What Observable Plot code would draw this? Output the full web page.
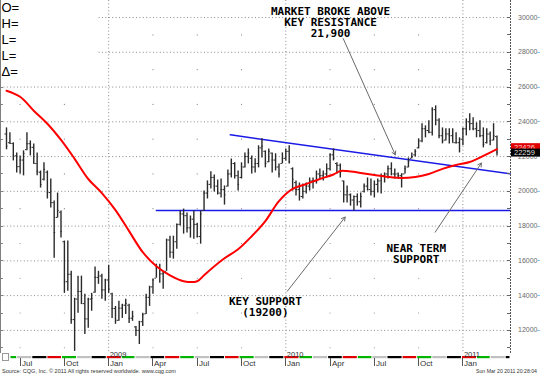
<!DOCTYPE html>
<html><head><meta charset="utf-8">
<script src="https://cdn.jsdelivr.net/npm/d3@7"></script>
<script src="https://cdn.jsdelivr.net/npm/@observablehq/plot@0.6"></script>
<style>body{margin:0;background:#fff} svg{display:block}</style>
</head><body><div id="chart"></div>
<script>
// ---- weekly OHLC (weeks starting Monday 2008-06-09) ----
const firstMonday = "2008-06-09";
const high = [23650,23370,22790,22210,22040,22330,23370,22900,22730,22210,21170,21640,21170,20710,19440,19900,18870,17140,17140,15400,13850,15120,15120,14080,13850,14130,15640,15400,15230,14940,15750,14130,13380,13670,13500,13790,13500,13100,12230,12520,12980,14080,14540,14940,15810,15810,15400,17250,17420,17420,18120,18870,
18980,18750,18580,18870,18170,18870,20020,20600,21120,20940,20650,20710,20310,21230,21860,21640,21170,21640,22210,22440,22040,21870,22620,23020,22330,22440,22210,22160,21580,22210,22440,22620,21350,20600,20480,20420,20480,20770,20770,21170,21290,21170,21580,22160,22440,21640,21580,20600,20310,19850,19730,19850,19900,20420,20770,20710,20600,20710,21000,21060,21460,21640,21290,21060,21000,21460,21920,22210,22390,23020,23890,23770,24060,24810,24920,24170,23650,23600,23600,23600,23370,23080,23650,24170,24460,24230,23940,24060,23650,23600,23420,23890,23190];
const low = [22390,22730,21750,21060,21000,20890,22330,22040,21580,20890,20190,20600,19560,19040,16150,18460,17310,14130,14250,12350,10790,12980,13500,11770,12120,13100,14130,14650,13790,13670,14130,12690,12350,12520,12690,12920,12400,12520,11650,11190,12230,12920,13380,14080,15000,14710,14370,15400,16150,16100,16670,18000,
17540,17600,17310,17250,17310,16960,18870,19560,20140,19960,19790,19620,19210,20250,20770,20710,20020,20710,21350,21580,21000,21060,21350,21920,21350,21640,21060,21170,20770,21580,21750,21580,20020,19730,19440,19560,19850,20020,20140,20420,20710,20600,20770,21170,21750,21000,20770,19330,19330,19150,18870,19150,19040,19900,20020,19730,19620,19900,19850,20480,20710,20890,20710,20710,20190,21000,21350,21870,21980,22440,22790,23080,23310,23190,23770,23020,22730,22900,22730,22790,22730,22210,22620,23190,23480,23480,23080,23080,22500,22730,22620,22900,22040];
const open = [23300,22800,22750,22040,21420,21800,22400,22740,22530,21600,21100,20700,21100,19930,19350,18500,18800,17100,14800,15230,12620,13800,14240,13540,12660,13800,14200,15050,15130,14330,14900,14100,13260,12580,13280,13450,13450,12700,12200,12000,12500,12950,13900,14500,15000,15600,15250,15400,17200,16500,17100,18100,
18700,18600,17900,18400,18100,17400,18900,19900,20400,20800,20300,19900,20100,20300,21000,21600,20900,20800,21400,22000,21900,21400,21600,22500,22300,21700,22200,21800,21400,21600,21900,22300,21300,20500,20100,19700,20000,20300,20600,20600,21000,20900,21000,21300,22100,21600,21500,20600,19800,19800,19500,19700,19400,20000,20300,20100,20000,20400,20600,20900,21000,21300,21000,21000,20900,21000,21400,21900,22100,22500,22900,23600,23500,23400,24700,24100,23200,22950,23300,23200,22800,22800,23000,23600,24000,23900,23600,23500,23200,22800,23300,22950,23150];
const close = [22600,22750,22040,21420,21800,22180,22740,22530,21600,21160,20390,21260,19930,19350,17630,18900,17680,14800,15230,12620,13800,14240,13540,12660,13800,13850,15050,15130,14330,14900,14380,13260,12580,13280,13450,13550,12700,12810,12000,12500,12900,13900,14500,14900,15600,15250,15300,17200,16500,17100,18100,18700,
18600,17900,18400,18100,17400,18700,19900,20400,20800,20300,19900,20100,19800,21000,21600,20900,20400,21400,22000,22200,21400,21600,22500,22600,21600,22300,21800,21400,21000,21900,22300,21700,20700,20100,19700,20000,20300,20600,20600,21000,20900,21000,21300,22100,21900,21500,21100,19800,20000,19500,19700,19400,19700,20300,20100,20000,20400,20600,20900,21000,21300,21000,21000,20900,21000,21300,21700,22000,22300,22900,23600,23500,23400,24700,24100,23200,22900,23300,23200,22800,22800,23000,23600,24000,23900,23600,23500,23200,22700,23300,22900,23200,22259];

// ---- red moving average, read at these week indexes ----
const maWeekIndex = [0,4,8,12,16,20,24,28,32,36,40,44,48,52,56,58,60,64,68,72,76,80,84,88,92,96,98,100,104,108,112,116,120,124,128,132,136,140,144];
const maValue = [25790,25440,24640,23890,22960,21870,20710,19900,18920,17710,16500,15690,15170,14830,14830,15170,15520,16150,16670,17420,18290,19440,20140,20420,20710,20970,21170,21170,21060,20940,20830,20770,20830,21000,21290,21520,21690,22040,22426];

// ---- trend lines ----
const supportDates = ["2009-04-13","2011-04-10"];
const supportValues = [18900,18900];
const resistanceDates = ["2009-09-12","2011-04-10"];
const resistanceValues = [23250,21015];

// ---- annotations ----
const noteTexts = ["MARKET BROKE ABOVE\nKEY RESISTANCE\n21,900","NEAR TERM\nSUPPORT","KEY SUPPORT\n(19200)"];
const noteDates = ["2010-04-06","2010-09-29","2009-11-23"];
const noteValues = [30600,16980,13920];
const arrowFromDates = ["2010-05-02","2010-11-07","2010-01-07"];
const arrowFromValues = [28790,17650,14250];
const arrowToDates = ["2010-08-17","2011-02-10","2010-05-06"];
const arrowToValues = [22100,21630,18520];

// ---- axes ----
const yLabelTicks = [12000,14000,16000,18000,20000,22000,24000,26000,28000,30000];
const yMinorTicks = [11000,13000,15000,17000,19000,21000,23000,25000,27000,29000];
const quarterTicks = ["2008-07-07","2008-10-06","2009-01-05","2009-04-06","2009-07-06","2009-10-05","2010-01-04","2010-04-05","2010-07-05","2010-10-04","2011-01-03"];
const quarterLabels = ["Jul","Oct","Jan","Apr","Jul","Oct","Jan","Apr","Jul","Oct","Jan"];
const yearTicks = ["2009-01-05","2010-01-04","2011-01-03"];
const yearLabels = ["2009","2010","2011"];
const stripColors = ["#e00000", "#00b400", "#c0c0c0", "#000000"];
const infoLabels = ["O=","H=","L=","L=","Δ="];
const lastPrice = 22259;
const lastAverage = 22426;
const sourceText = "Source: CQG, Inc. © 2011 All rights reserved worldwide. www.cqg.com";
const stampText = "Sun Mar 20 2011 20:28:04";

// ---- build tables ----
const parse = s => new Date(s + "T00:00:00Z");
const weeks = high.map((_, i) => d3.utcMonday.offset(parse(firstMonday), i));
const bars = high.map((h, i) => ({date: weeks[i], high: h, low: low[i], open: open[i], close: close[i]}));
const ma = maWeekIndex.map((k, j) => ({date: weeks[k], value: maValue[j]}));
const support = supportDates.map((d, i) => ({date: parse(d), value: supportValues[i]}));
const resistance = resistanceDates.map((d, i) => ({date: parse(d), value: resistanceValues[i]}));
const notes = noteTexts.map((t, i) => ({text: t, date: parse(noteDates[i]), value: noteValues[i]}));
const arrows = arrowFromDates.map((d, i) => ({x1: parse(d), y1: arrowFromValues[i], x2: parse(arrowToDates[i]), y2: arrowToValues[i]}));
const qDates = quarterTicks.map(parse);
const yDates = yearTicks.map(parse);
const sparseDots = qDates.filter(d => d.getUTCMonth() !== 0).flatMap(d => yMinorTicks.map(v => ({date: d, value: v})));
const day = 864e5;

const chart = Plot.plot({
  width: 540, height: 375,
  marginTop: 0, marginRight: 30, marginBottom: 22, marginLeft: 0,
  style: {background: "#fff"},
  x: {type: "utc", domain: [new Date("2008-05-27T16:00:00Z"), new Date("2011-04-10T19:00:00Z")], axis: null},
  y: {domain: [10670, 30980], axis: null},
  marks: [
    Plot.ruleY(yLabelTicks, {stroke: "#8c8c8c", strokeDasharray: "1,2.4", strokeWidth: 1}),
    Plot.ruleX(yDates, {stroke: "#8c8c8c", strokeDasharray: "1,2.4", strokeWidth: 1}),
    Plot.dot(sparseDots, {x: "date", y: "value", r: 0.6, fill: "#8c8c8c", stroke: null}),
    Plot.line(support, {x: "date", y: "value", stroke: "#1a1ae6", strokeWidth: 1.5}),
    Plot.line(resistance, {x: "date", y: "value", stroke: "#1a1ae6", strokeWidth: 1.5}),
    Plot.ruleX(bars, {x: "date", y1: "low", y2: "high", stroke: "#2a2a2a", strokeWidth: 1.4}),
    Plot.ruleY(bars, {x1: d => new Date(+d.date - 3 * day), x2: "date", y: "open", stroke: "#2a2a2a", strokeWidth: 1}),
    Plot.ruleY(bars, {x1: "date", x2: d => new Date(+d.date + 3 * day), y: "close", stroke: "#2a2a2a", strokeWidth: 1}),
    Plot.line(ma, {x: "date", y: "value", stroke: "#ff0000", strokeWidth: 2, curve: "catmull-rom"}),
    Plot.arrow(arrows, {x1: "x1", y1: "y1", x2: "x2", y2: "y2", stroke: "#6a6a6a", strokeWidth: 1, headLength: 6}),
    Plot.text(notes, {x: "date", y: "value", text: "text", lineAnchor: "top", textAnchor: "middle",
      fontFamily: "DejaVu Sans Mono", fontWeight: "bold", fontSize: 11, lineHeight: 1, fill: "#000"})
  ]
});
document.getElementById("chart").appendChild(chart);

const sx = chart.scale("x"), sy = chart.scale("y");
const X = d => sx.apply(d), Y = v => sy.apply(v);
const g = d3.select(chart).append("g")
  .attr("font-family", "Liberation Sans, Arial, sans-serif")
  .attr("text-anchor", "start");
const plotRight = 510, plotBottom = 353;

// left edge with ticks
g.append("line").attr("x1", 0.5).attr("x2", 0.5).attr("y1", 0).attr("y2", plotBottom).attr("stroke", "#808080");
// right edge dotted with ticks
g.append("line").attr("x1", plotRight + 0.5).attr("x2", plotRight + 0.5).attr("y1", 0).attr("y2", plotBottom)
  .attr("stroke", "#555").attr("stroke-dasharray", "2,1");
const allK = d3.sort(yLabelTicks.concat(yMinorTicks));
allK.forEach(v => {
  const yy = Math.round(Y(v)) + 0.5;
  g.append("line").attr("x1", 0).attr("x2", 3).attr("y1", yy).attr("y2", yy).attr("stroke", "#808080");
  g.append("line").attr("x1", plotRight - 3).attr("x2", plotRight).attr("y1", yy).attr("y2", yy).attr("stroke", "#666");
});
// right labels
yLabelTicks.forEach(v => {
  const yy = Math.round(Y(v)) + 0.5;
  g.append("text").attr("x", 518).attr("y", Y(v) + 2.5).attr("font-size", 7).attr("fill", "#6a6a6a").text(String(v));
  g.append("line").attr("x1", 537).attr("x2", 540).attr("y1", yy).attr("y2", yy).attr("stroke", "#88c8f0");
});
// last value boxes
[[lastAverage, "#e00000", "#ffd0d0"], [lastPrice, "#000", "#ddd"]].forEach(([v, bg, fg], i) => {
  const cy = Y(v) + (i === 0 ? -1.5 : 1);
  g.append("rect").attr("x", 511).attr("y", cy - 4).attr("width", 29).attr("height", 8).attr("fill", bg);
  g.append("text").attr("x", 514).attr("y", cy + 2.6).attr("font-size", 7.5).attr("fill", fg).text(String(v));
});

// bottom time strip (monthly colour cycle)
const strip = d3.utcMonths(parse("2008-05-01"), parse("2011-05-01"));
strip.forEach((m, i) => {
  const x0 = Math.max(X(m), 10), x1 = Math.min(X(d3.utcMonth.offset(m, 1)), plotRight);
  if (x1 <= x0) return;
  g.append("rect").attr("x", x0 + 0.5).attr("y", 356).attr("width", Math.max(0, x1 - x0 - 1)).attr("height", 2.2)
    .attr("fill", stripColors[i % 4]);
});
qDates.forEach((d, i) => {
  const xx = Math.round(X(d)) + 0.5;
  g.append("line").attr("x1", xx).attr("x2", xx).attr("y1", 358).attr("y2", 366).attr("stroke", "#555");
  g.append("text").attr("x", xx + 1.5).attr("y", 366).attr("font-size", 8).attr("fill", "#333").text(quarterLabels[i]);
});
yDates.forEach((d, i) => {
  g.append("text").attr("x", X(d) + 1.5).attr("y", 356.5).attr("font-size", 7.5).attr("fill", "#333").text(yearLabels[i]);
});
g.append("rect").attr("x", 2.5).attr("y", 353.5).attr("width", 6).attr("height", 7).attr("fill", "#fff").attr("stroke", "#999");
g.append("text").attr("x", 2).attr("y", 372.5).attr("font-size", 5).attr("fill", "#333")
  .attr("textLength", 174).attr("lengthAdjust", "spacingAndGlyphs").text(sourceText);
g.append("text").attr("x", 476).attr("y", 372.5).attr("font-size", 5).attr("fill", "#333")
  .attr("textLength", 61).attr("lengthAdjust", "spacingAndGlyphs").text(stampText);

// info box
g.append("rect").attr("x", 1).attr("y", 0).attr("width", 96).attr("height", 80).attr("fill", "#fff");
infoLabels.forEach((t, i) => {
  g.append("text").attr("x", 1.5).attr("y", 12 + i * 15.9).attr("font-size", 13).attr("fill", "#000").text(t);
});
</script></body></html>
